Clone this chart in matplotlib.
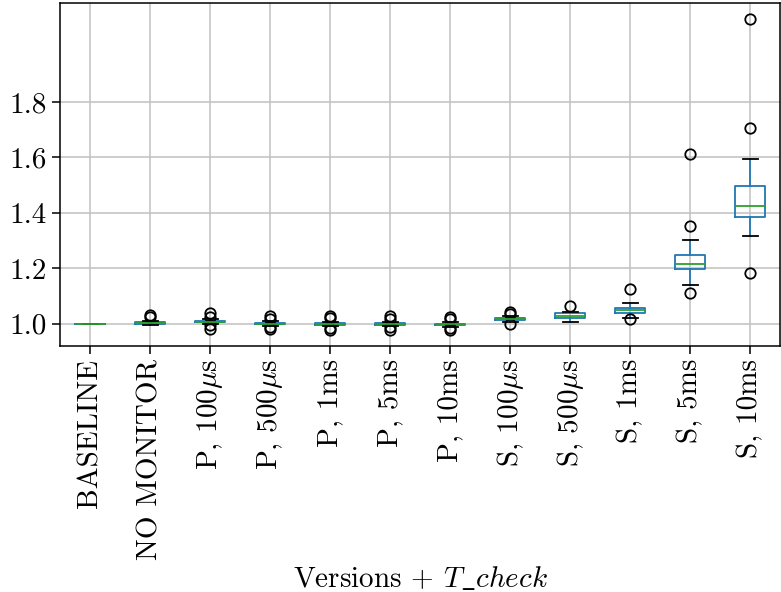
import matplotlib
matplotlib.use("Agg")
import matplotlib.pyplot as plt

plt.rcParams["font.family"] = ["cmr10", "DejaVu Serif"]
plt.rcParams["mathtext.fontset"] = "cm"
plt.rcParams["axes.formatter.use_mathtext"] = True
plt.rcParams["font.size"] = 21
plt.rcParams["axes.linewidth"] = 1.1
plt.rcParams["xtick.major.size"] = 6
plt.rcParams["ytick.major.size"] = 6
plt.rcParams["xtick.major.width"] = 1.1
plt.rcParams["ytick.major.width"] = 1.1

categories = ["BASELINE", "NO MONITOR",
              r"P, 100$\mu$s", r"P, 500$\mu$s", "P, 1ms", "P, 5ms", "P, 10ms",
              r"S, 100$\mu$s", r"S, 500$\mu$s", "S, 1ms", "S, 5ms", "S, 10ms"]

# Normalised execution time, summary statistics per version
medians = [1.000, 1.002, 1.008, 1.001, 1.000, 0.999, 0.998, 1.017, 1.030, 1.049, 1.216, 1.426]
q1 =      [1.000, 0.999, 1.005, 0.998, 0.997, 0.996, 0.995, 1.013, 1.021, 1.039, 1.197, 1.386]
q3 =      [1.000, 1.005, 1.011, 1.004, 1.003, 1.002, 1.001, 1.022, 1.039, 1.057, 1.249, 1.498]
whislo =  [1.000, 0.995, 1.001, 0.993, 0.992, 0.991, 0.990, 1.007, 1.005, 1.022, 1.141, 1.317]
whishi =  [1.000, 1.010, 1.016, 1.009, 1.008, 1.007, 1.006, 1.030, 1.044, 1.075, 1.303, 1.596]
fliers = [
    [],
    [1.025, 1.032],
    [0.981, 0.995, 1.026, 1.040],
    [0.980, 0.990, 1.018, 1.030],
    [0.978, 0.986, 1.020, 1.030],
    [0.979, 0.987, 1.019, 1.028],
    [0.978, 0.986, 1.017, 1.026],
    [0.999, 1.035, 1.041],
    [1.065],
    [1.018, 1.125],
    [1.111, 1.353, 1.611],
    [1.183, 1.706, 2.099],
]

stats = [
    dict(med=m, q1=a, q3=b, whislo=lo, whishi=hi, fliers=f, label=c)
    for c, m, a, b, lo, hi, f in zip(categories, medians, q1, q3, whislo, whishi, fliers)
]

fig = plt.figure(figsize=(7.81, 5.92), dpi=100)
ax = fig.add_axes([0.077, 0.416, 0.922, 0.579])

lw = 1.3
ax.bxp(stats, widths=0.5,
       boxprops=dict(color="#1f77b4", linewidth=lw),
       whiskerprops=dict(color="#1f77b4", linewidth=lw),
       medianprops=dict(color="#2ca02c", linewidth=lw),
       capprops=dict(color="black", linewidth=lw),
       flierprops=dict(marker="o", markerfacecolor="none", markeredgecolor="black",
                       markersize=7.5, markeredgewidth=lw))

ax.grid(True, color="#c0c0c0", linewidth=1.1)
ax.set_axisbelow(True)
ax.set_ylim(0.921, 2.157)
ax.set_yticks([1.0, 1.2, 1.4, 1.6, 1.8])
ax.set_yticklabels(["1.0", "1.2", "1.4", "1.6", "1.8"])
ax.set_xticklabels(categories, rotation=90)
ax.set_xlabel(r"Versions + $T\_check$")

fig.savefig("out.png", dpi=100)
